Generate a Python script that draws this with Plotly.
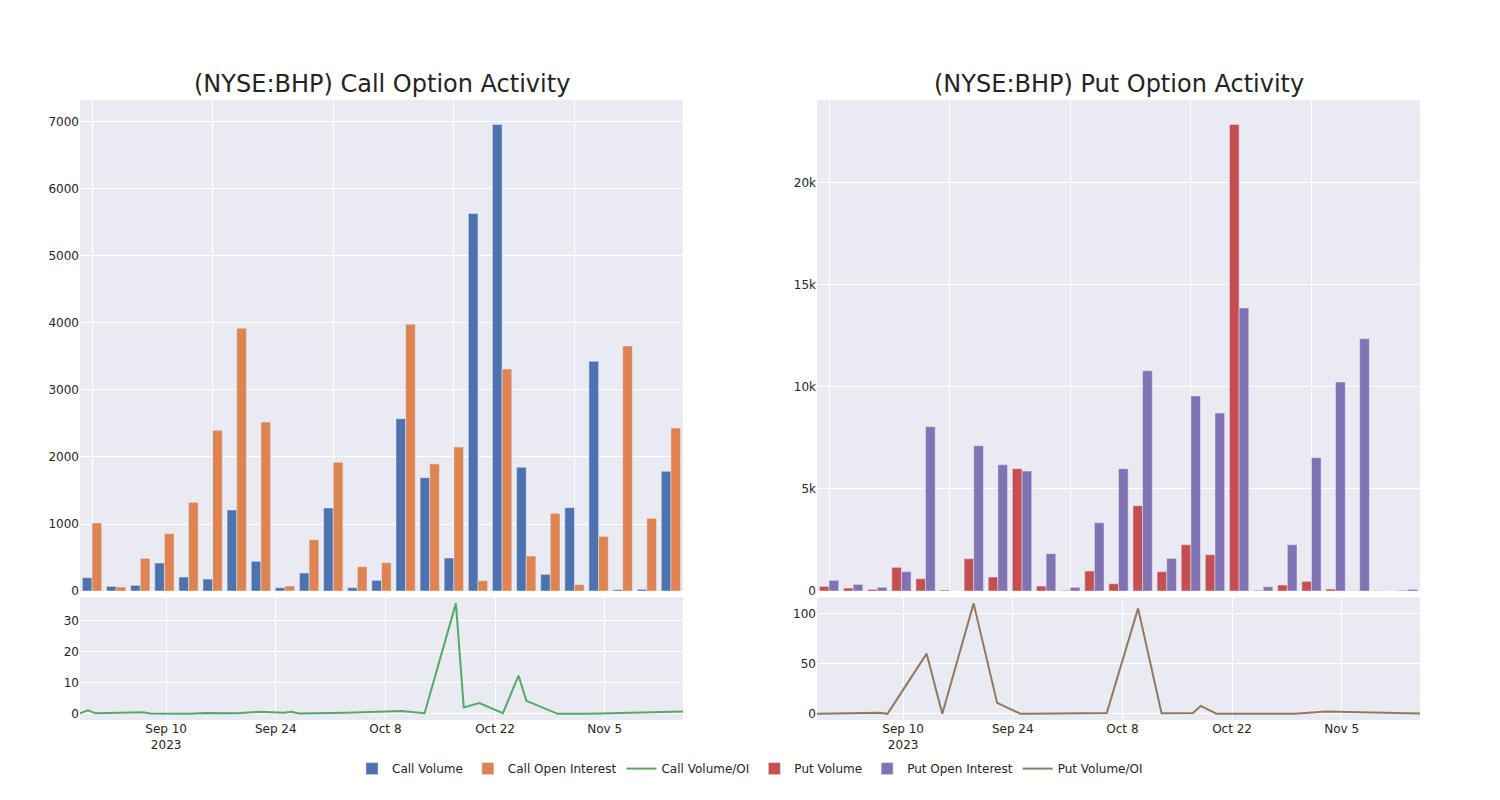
import plotly.graph_objects as go
from plotly.subplots import make_subplots

dates = ["2023-08-30", "2023-08-31", "2023-09-01", "2023-09-07", "2023-09-08",
         "2023-09-13", "2023-09-15", "2023-09-19", "2023-09-22", "2023-09-25",
         "2023-09-26", "2023-09-27", "2023-10-03", "2023-10-06", "2023-10-10",
         "2023-10-13", "2023-10-17", "2023-10-18", "2023-10-20", "2023-10-23",
         "2023-10-25", "2023-10-26", "2023-10-30", "2023-11-03", "2023-11-15"]

call_volume = [199, 70, 85, 418, 209, 179, 1209, 443, 50, 269, 1239, 50, 159,
               2572, 1692, 493, 5632, 6960, 1846, 249, 1244, 3428, 20, 25, 1786]
call_oi = [1015, 60, 488, 856, 1323, 2398, 3920, 2522, 75, 766, 1920, 363, 423,
           3980, 1896, 2149, 154, 3313, 522, 1159, 95, 816, 3657, 1085, 2433]
call_ratio = [0.2, 1.17, 0.17, 0.49, 0.16, 0.07, 0.31, 0.18, 0.67, 0.35, 0.65, 0.14, 0.38,
              0.65, 0.89, 0.23, 35.5, 2.1, 3.5, 0.21, 12.3, 4.2, 0.01, 0.02, 0.73]

put_volume = [229, 147, 82, 1159, 604, 49, 1583, 686, 5991, 245, 33, 979, 359,
              4179, 947, 2269, 1779, 22842, 33, 294, 473, 98, 16, 16, 33]
put_oi = [522, 326, 180, 947, 8048, 0, 7117, 6187, 5877, 1828, 180, 3346, 5991,
          10791, 1600, 9549, 8718, 13862, 212, 2269, 6530, 10236, 12358, 0, 82]
put_ratio = [0.2, 0.3, 0.4, 1.2, 0.08, 60, 0.2, 110, 11, 0.13, 0.2, 0.3, 0.2,
             1.0, 105, 0.6, 1.0, 8, 0.2, 0.5, 0.4, 0.1, 0.1, 2.5, 0.5]

titles = ["(NYSE:BHP) Call Option Activity", "(NYSE:BHP) Put Option Activity"]

fig = make_subplots(rows=2, cols=2, row_heights=[0.8, 0.2], vertical_spacing=0.01,
                    horizontal_spacing=0.1, subplot_titles=titles)

fig.add_trace(go.Bar(x=dates, y=call_volume, name="Call Volume"), row=1, col=1)
fig.add_trace(go.Bar(x=dates, y=call_oi, name="Call Open Interest"), row=1, col=1)
fig.add_trace(go.Scatter(x=dates, y=call_ratio, name="Call Volume/OI", mode="lines"), row=2, col=1)
fig.add_trace(go.Bar(x=dates, y=put_volume, name="Put Volume"), row=1, col=2)
fig.add_trace(go.Bar(x=dates, y=put_oi, name="Put Open Interest"), row=1, col=2)
fig.add_trace(go.Scatter(x=dates, y=put_ratio, name="Put Volume/OI", mode="lines"), row=2, col=2)

fig.update_xaxes(type="category", showticklabels=False, tick0=0, dtick=5, row=1, col=1)
fig.update_xaxes(type="category", showticklabels=False, tick0=0, dtick=5, row=1, col=2)
fig.update_xaxes(type="date", row=2, col=1)
fig.update_xaxes(type="date", row=2, col=2)

fig.update_annotations(font=dict(size=24, family="DejaVu Sans", color="rgb(36,36,36)"))

fig.update_layout(
    template="seaborn",
    width=1500, height=800,
    margin=dict(l=72, r=88, t=92, b=88),
    font=dict(family="DejaVu Sans", size=12),
    barmode="group",
    legend=dict(orientation="h", x=0.5, xanchor="center", y=-0.055, yanchor="top"),
)

fig.write_html("out.html")
